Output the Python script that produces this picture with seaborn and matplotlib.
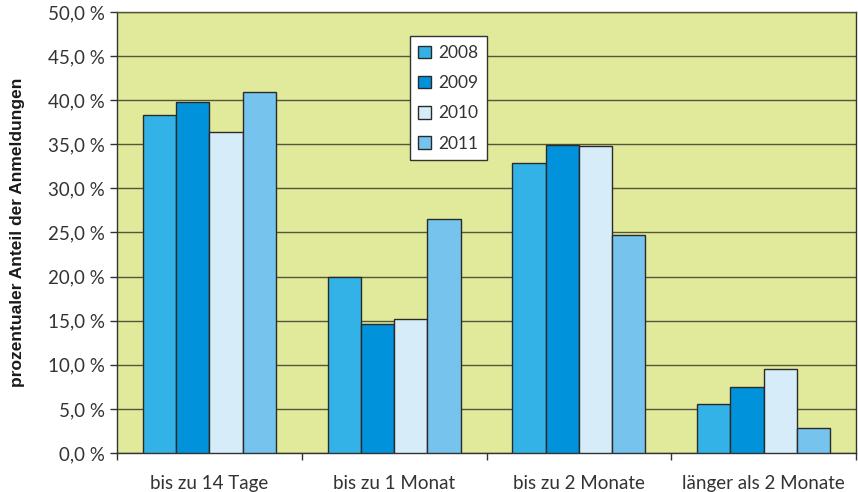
import matplotlib
matplotlib.use("Agg")
import matplotlib.pyplot as plt
import seaborn as sns
import pandas as pd
import numpy as np
from matplotlib.ticker import FuncFormatter, FixedLocator, NullFormatter

categories = ["bis zu 14 Tage", "bis zu 1 Monat", "bis zu 2 Monate", "länger als 2 Monate"]
years = ["2008", "2009", "2010", "2011"]
values_2008 = [38.3, 20.0, 32.9, 5.6]
values_2009 = [39.8, 14.6, 34.9, 7.5]
values_2010 = [36.4, 15.2, 34.8, 9.5]
values_2011 = [40.9, 26.5, 24.7, 2.8]
y_ticks = [0, 5, 10, 15, 20, 25, 30, 35, 40, 45, 50]

colors = ["#33B2E8", "#0092DB", "#D6ECF8", "#76C3EE"]

rows = []
for year, vals in zip(years, [values_2008, values_2009, values_2010, values_2011]):
    for cat, v in zip(categories, vals):
        rows.append({"Kategorie": cat, "Jahr": year, "Anteil": v})
df = pd.DataFrame(rows)

sns.set_theme(style="white")
plt.rcParams["font.family"] = ["Lato", "DejaVu Sans"]

fig = plt.figure(figsize=(8.58, 4.92), dpi=100)
ax = fig.add_axes([0.1364, 0.0793, 0.8613, 0.8963])
ax.set_facecolor("#E1EA9B")

sns.barplot(data=df, x="Kategorie", y="Anteil", hue="Jahr", hue_order=years,
            order=categories, palette=colors, saturation=1, width=0.72,
            edgecolor="#2a2a2a", linewidth=1.0, ax=ax, zorder=3)

ax.set_ylim(0, 50)
ax.set_xlim(-0.5, 3.5)
ax.yaxis.set_major_locator(FixedLocator(y_ticks))
ax.yaxis.set_major_formatter(FuncFormatter(lambda v, p: f"{v:.1f}".replace(".", ",") + " %"))
ax.grid(axis="y", color="#55553a", linewidth=1.0, zorder=0)
ax.set_axisbelow(True)

# category boundaries carry the x tick marks, labels sit at centres
ax.set_xticks(np.arange(-0.5, 4.0, 1.0), minor=True)
ax.xaxis.set_minor_formatter(NullFormatter())
ax.tick_params(axis="x", which="major", length=0, pad=16, labelsize=13.5, colors="#333333")
ax.tick_params(axis="x", which="minor", length=5, width=1, color="#333333", direction="out", bottom=True)
ax.tick_params(axis="y", which="major", length=5, width=1, color="#333333", direction="out",
               left=True, labelsize=13.5, labelcolor="#333333", pad=4)

for side in ["left", "bottom", "top", "right"]:
    ax.spines[side].set_visible(True)
    ax.spines[side].set_color("#333333")
    ax.spines[side].set_linewidth(1.0)
ax.spines["top"].set_color("#55553a")

ax.set_xlabel("")
ax.set_ylabel("prozentualer Anteil der Anmeldungen", fontsize=12.5, fontweight="bold",
              color="#1a1a1a", family=["Liberation Sans", "DejaVu Sans"], labelpad=16)

leg = ax.legend(loc="upper left", bbox_to_anchor=(0.396, 0.945), frameon=True,
                fontsize=12.5, handlelength=0.75, handleheight=0.75, handletextpad=0.4,
                labelspacing=0.82, borderpad=0.5, borderaxespad=0, fancybox=False)
leg.get_frame().set_edgecolor("#333333")
leg.get_frame().set_facecolor("white")
leg.get_frame().set_linewidth(1.0)
leg.get_frame().set_alpha(1.0)
for t in leg.get_texts():
    t.set_color("#333333")
leg.set_zorder(5)

fig.savefig("out.png", dpi=100)
